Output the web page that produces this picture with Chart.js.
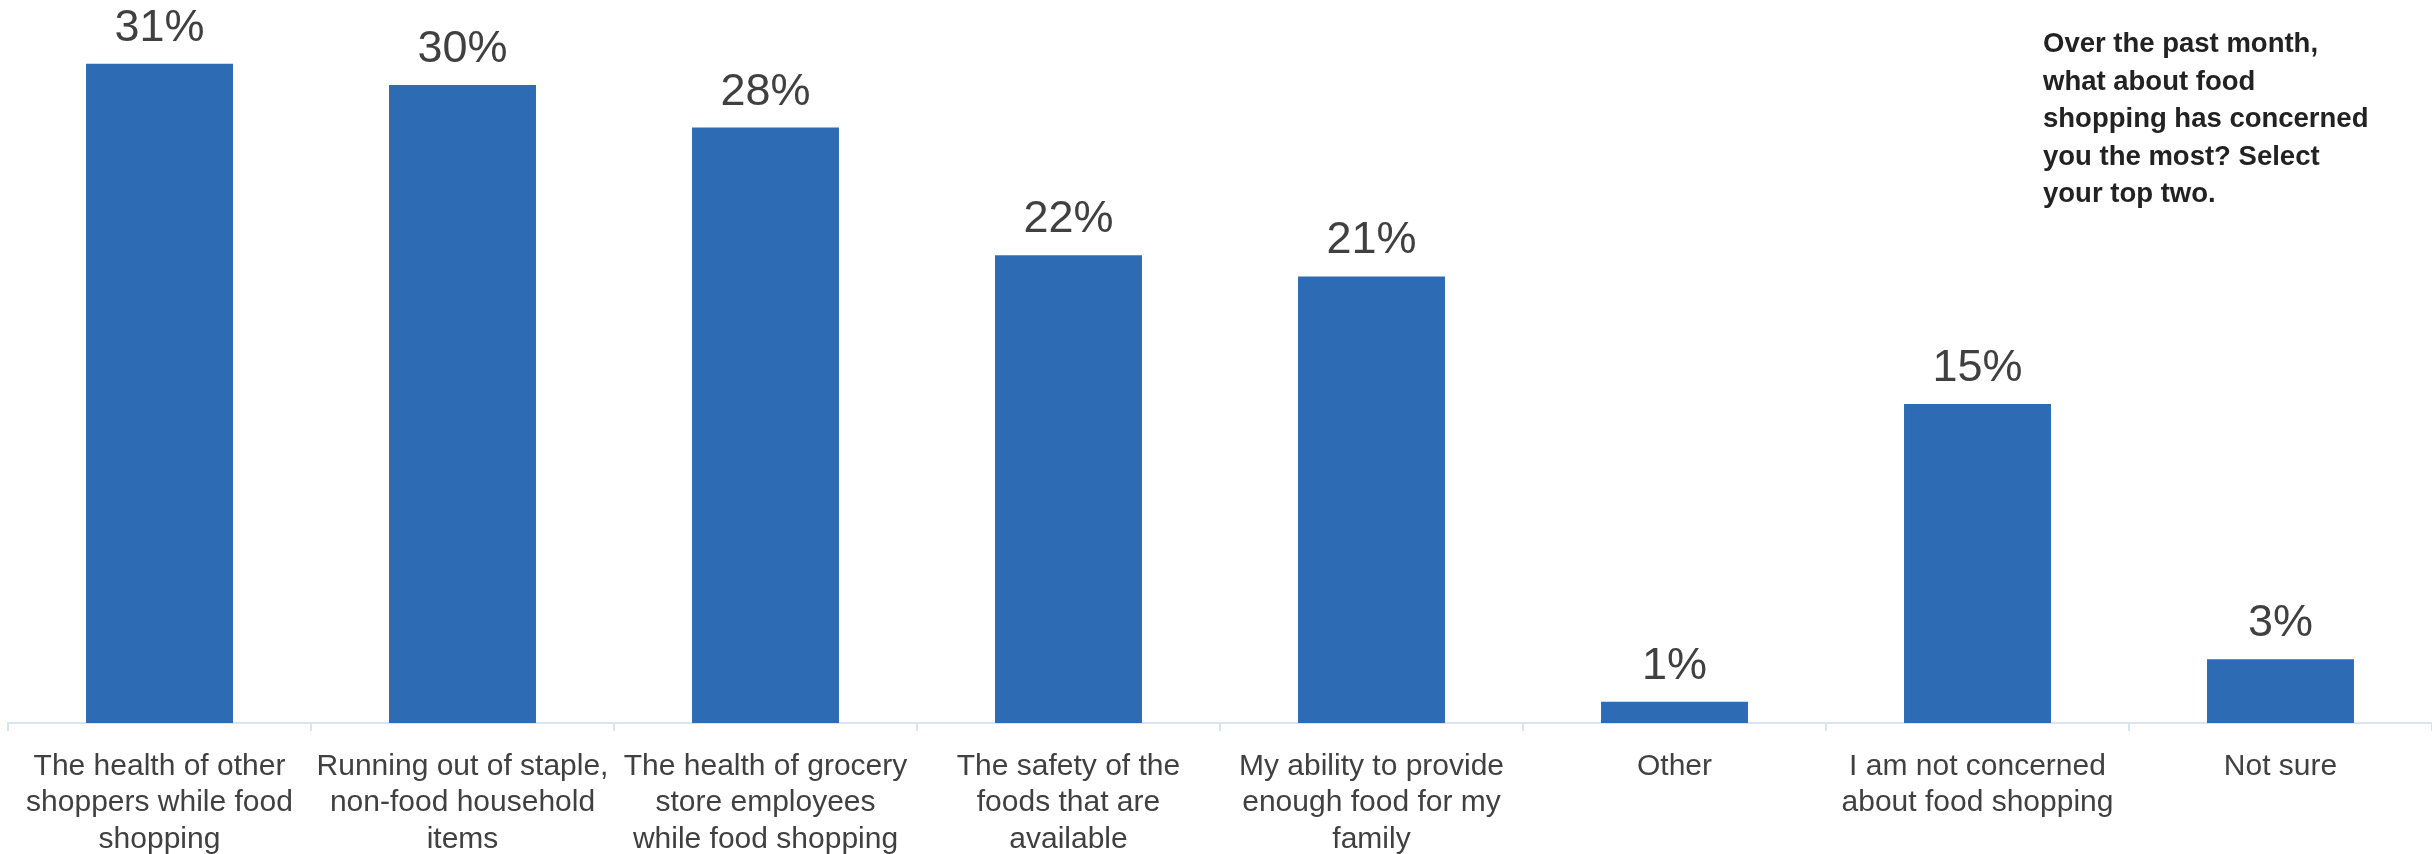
<!DOCTYPE html>
<html>
<head>
<meta charset="utf-8">
<script src="https://cdn.jsdelivr.net/npm/chart.js@4"></script>
<style>
  html, body { margin: 0; padding: 0; background: #fff; }
  #wrap { width: 2432px; height: 854px; }
</style>
</head>
<body>
<div id="wrap"><canvas id="chart" width="2432" height="854"></canvas></div>
<script>
// categorie (etichette su più righe)
const categorie = [
  ["The health of other", "shoppers while food", "shopping"],
  ["Running out of staple,", "non-food household", "items"],
  ["The health of grocery", "store employees", "while food shopping"],
  ["The safety of the", "foods that are", "available"],
  ["My ability to provide", "enough food for my", "family"],
  ["Other"],
  ["I am not concerned", "about food shopping"],
  ["Not sure"]
];

// percentuali
const valori = [31, 30, 28, 22, 21, 1, 15, 3];

// domanda in alto a destra
const domanda = [
  "Over the past month,",
  "what about food",
  "shopping has concerned",
  "you the most? Select",
  "your top two."
];

const fontBase = '"Liberation Sans", Arial, sans-serif';

// etichette sopra le barre + testo della domanda
const etichettePlugin = {
  id: "etichette",
  afterDatasetsDraw(chart) {
    const ctx = chart.ctx;
    const meta = chart.getDatasetMeta(0);
    ctx.save();
    ctx.fillStyle = "#404040";
    ctx.font = "45px " + fontBase;
    ctx.textAlign = "center";
    ctx.textBaseline = "alphabetic";
    meta.data.forEach((bar, i) => {
      ctx.fillText(valori[i] + "%", bar.x, bar.y - 23);
    });

    ctx.fillStyle = "#222222";
    ctx.font = "bold 27.5px " + fontBase;
    ctx.textAlign = "left";
    domanda.forEach((riga, i) => {
      ctx.fillText(riga, 2043, 52 + i * 37.5);
    });
    ctx.restore();
  }
};

const ctx = document.getElementById("chart").getContext("2d");

const grafico = new Chart(ctx, {
  type: "bar",
  data: {
    labels: categorie,
    datasets: [
      {
        data: valori,
        backgroundColor: "#2e6bb5",
        borderWidth: 0,
        barPercentage: 0.485,
        categoryPercentage: 1.0
      }
    ]
  },
  options: {
    responsive: false,
    animation: false,
    devicePixelRatio: 1,
    layout: {
      padding: { left: 8, right: -5, top: 0, bottom: 0 }
    },
    plugins: {
      legend: { display: false },
      tooltip: { enabled: false }
    },
    scales: {
      x: {
        afterFit(scale) {
          // asse fisso: niente spazio extra per le etichette laterali
          scale.height = 131;
          scale.paddingLeft = 0;
          scale.paddingRight = 0;
        },
        grid: {
          display: true,
          offset: true,
          drawOnChartArea: false,
          drawTicks: true,
          tickLength: 8,
          color: "#dae3f3",
          lineWidth: 2
        },
        border: { display: true, color: "#dae3f3", width: 2 },
        ticks: {
          color: "#404040",
          font: { family: fontBase, size: 30, lineHeight: 1.22 },
          padding: 17,
          maxRotation: 0,
          autoSkip: false
        }
      },
      y: {
        display: false,
        min: 0,
        max: 34
      }
    }
  },
  plugins: [etichettePlugin]
});
</script>
</body>
</html>
